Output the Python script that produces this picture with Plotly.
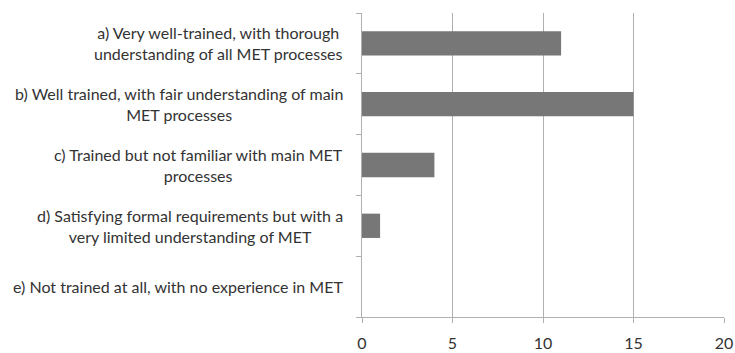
import plotly.graph_objects as go

# Survey answers, top to bottom
categories = [
    "a) Very well-trained, with thorough<br>understanding of all MET processes",
    "b) Well trained, with fair understanding of main<br>MET processes",
    "c) Trained but not familiar with main MET<br>processes",
    "d) Satisfying formal requirements but with a<br>very limited understanding of MET",
    "e) Not trained at all, with no experience in MET",
]
counts = [11, 15, 4, 1, 0]
x_ticks = [0, 5, 10, 15, 20]

FONT = "Lato"
TEXT = "#333333"
GRID = "#b0b0b0"
SIZE = 16

fig = go.Figure(
    go.Bar(
        x=counts,
        y=categories,
        orientation="h",
        marker=dict(color="#777777", line=dict(width=0)),
        hoverinfo="x+y",
    )
)

# Category labels as annotations so wrapped lines stay centred on each other
for cat in categories:
    fig.add_annotation(
        x=0, y=cat, xref="x", yref="y",
        text=cat, showarrow=False,
        xanchor="right", yanchor="middle", align="center",
        xshift=-17,
        font=dict(family=FONT, size=SIZE, color=TEXT),
    )

fig.update_layout(
    width=735, height=353,
    margin=dict(l=362, r=11, t=13, b=36, autoexpand=False),
    plot_bgcolor="white", paper_bgcolor="white",
    bargap=0.6,
    showlegend=False,
    font=dict(family=FONT, size=SIZE, color=TEXT),
)
fig.update_xaxes(
    range=[0, 20], tickvals=x_ticks,
    showgrid=True, gridcolor=GRID, gridwidth=1,
    showline=True, linecolor=GRID, linewidth=1,
    ticks="outside", ticklen=5, tickcolor=GRID,
    ticklabelstandoff=7,
    zeroline=False, automargin=False,
    tickfont=dict(family=FONT, size=SIZE, color=TEXT),
)
fig.update_yaxes(
    categoryorder="array", categoryarray=categories[::-1],
    showticklabels=False,
    showline=True, linecolor=GRID, linewidth=1,
    ticks="outside", ticklen=5, tickcolor=GRID, tickson="boundaries",
    showgrid=False, zeroline=False, automargin=False,
)

fig.write_html("out.html")
